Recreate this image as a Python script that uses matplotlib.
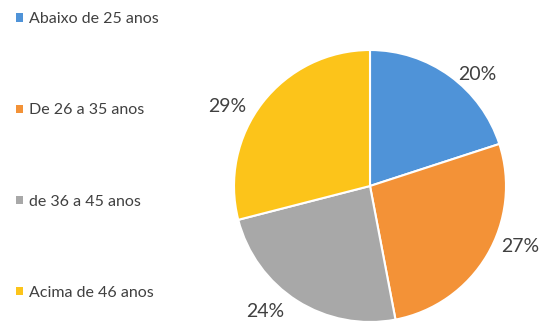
import numpy as np
import matplotlib.pyplot as plt
from matplotlib.patches import Patch

faixas = ['Abaixo de 25 anos', 'De 26 a 35 anos', 'de 36 a 45 anos', 'Acima de 46 anos']
valores = [20, 27, 24, 29]
cores = ['#4f93d8', '#f39237', '#a8a8a8', '#fcc41a']

# where each percentage sits (angle in degrees, distance in radii)
rot_rotulo = [46, -22, -130, 151]
dist_rotulo = [1.14, 1.19, 1.2, 1.2]

plt.rcParams['font.family'] = ['Lato', 'DejaVu Sans']

fig = plt.figure(figsize=(5.49, 3.25), dpi=100)
# pie on the right: centre ~ (370, 186) px, radius ~136 px
W, H = 549, 325
cx, cy, r = 370, 186, 136
ax = fig.add_axes([(cx - r) / W, (H - cy - r) / H, 2 * r / W, 2 * r / H])

wedges, texts, autotexts = ax.pie(
    valores, colors=cores, startangle=90, counterclock=False,
    autopct='%1.0f%%', pctdistance=1.17,
    wedgeprops=dict(edgecolor='white', linewidth=1.5),
    textprops=dict(fontsize=14, color='#404040'))
for t, a, d in zip(autotexts, rot_rotulo, dist_rotulo):
    t.set_position((d * np.cos(np.radians(a)), d * np.sin(np.radians(a))))
ax.set_xlim(-1, 1)
ax.set_ylim(-1, 1)
ax.set_aspect('equal')

handles = [Patch(facecolor=c, edgecolor='none') for c in cores]
fig.legend(handles, faixas, loc='upper left', bbox_to_anchor=(0.015, 0.987),
           frameon=False, fontsize=11.5, labelcolor='#404040',
           handlelength=0.4, handleheight=0.4, handletextpad=0.4,
           labelspacing=4.83, borderaxespad=0.1)

fig.savefig('out.png', dpi=100)
